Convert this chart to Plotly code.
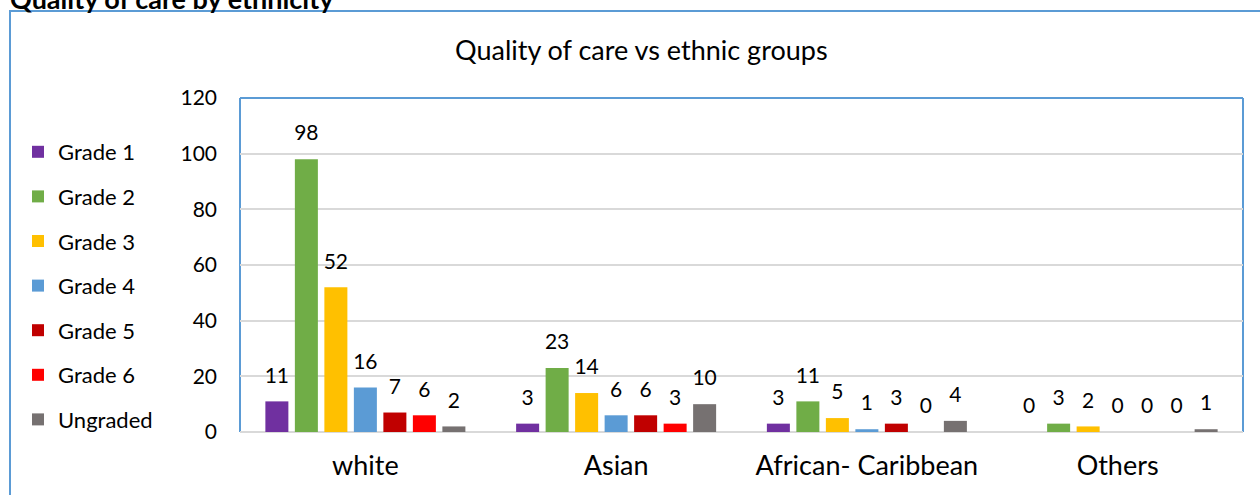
import plotly.graph_objects as go

categories = ["white", "Asian", "African- Caribbean", "Others"]
series_names = ["Grade 1", "Grade 2", "Grade 3", "Grade 4", "Grade 5", "Grade 6", "Ungraded"]
grade1 = [11, 3, 3, 0]
grade2 = [98, 23, 11, 3]
grade3 = [52, 14, 5, 2]
grade4 = [16, 6, 1, 0]
grade5 = [7, 6, 3, 0]
grade6 = [6, 3, 0, 0]
ungraded = [2, 10, 4, 1]
series_values = [grade1, grade2, grade3, grade4, grade5, grade6, ungraded]
colors = ["#7030a0", "#70ad47", "#ffc000", "#5b9bd5", "#c00000", "#ff0000", "#767171"]
y_ticks = [0, 20, 40, 60, 80, 100, 120]

FONT = "Lato, 'Open Sans', sans-serif"
W, H = 1260, 495
ML, MR, MT, MB = 240, 17, 98, 63
BARGAP = 0.1765

fig = go.Figure()
for name, vals, col in zip(series_names, series_values, colors):
    fig.add_trace(go.Bar(
        name=name, x=categories, y=vals,
        marker=dict(color=col, line=dict(width=0)),
        legendgroup=name, hoverinfo="x+y+name",
    ))
# data labels (grouped scatter text aligned with the bar slots)
for name, vals in zip(series_names, series_values):
    fig.add_trace(go.Scatter(
        x=categories, y=vals, mode="markers+text",
        text=[str(v) for v in vals], textposition="top center",
        textfont=dict(size=21, color="#000000", family=FONT),
        marker=dict(size=20, color="rgba(0,0,0,0)"),
        showlegend=False, cliponaxis=False, hoverinfo="skip",
    ))

pw = W - ML - MR
ph = H - MT - MB

def px_x(p):
    return (p - ML) / pw

def px_y(p):
    return (H - MB - p) / ph

blue = "#5b9bd5"
fig.update_layout(
    width=W, height=H,
    margin=dict(l=ML, r=MR, t=MT, b=MB, pad=0),
    paper_bgcolor="white", plot_bgcolor="white",
    barmode="group", bargap=BARGAP, bargroupgap=0.22,
    scattermode="group", scattergap=BARGAP,
    font=dict(family=FONT, color="#000000"),
    showlegend=True,
    legend=dict(
        x=px_x(18), y=px_y(131), xanchor="left", yanchor="top",
        font=dict(size=22, family=FONT), tracegroupgap=13,
        itemwidth=30, bgcolor="rgba(0,0,0,0)",
    ),
    xaxis=dict(
        showline=False, showgrid=False, ticks="",
        tickfont=dict(size=27, family=FONT), ticklabelstandoff=15,
    ),
    yaxis=dict(
        range=[0, 120], tickvals=y_ticks, ticktext=[str(t) for t in y_ticks],
        showgrid=True, gridcolor="#d9d9d9", gridwidth=2,
        zeroline=True, zerolinecolor="#d9d9d9", zerolinewidth=2,
        showline=False, ticks="", tickfont=dict(size=21, family=FONT),
        ticklabelstandoff=22,
    ),
    shapes=[
        dict(type="rect", xref="paper", yref="paper",
             x0=px_x(10), x1=px_x(1275), y0=px_y(510), y1=px_y(11),
             line=dict(color=blue, width=2), layer="below"),
        dict(type="line", xref="paper", yref="paper", x0=0, x1=0, y0=0, y1=1,
             line=dict(color=blue, width=2), layer="below"),
        dict(type="line", xref="paper", yref="paper", x0=1, x1=1, y0=0, y1=1,
             line=dict(color=blue, width=2), layer="below"),
        dict(type="line", xref="paper", yref="paper", x0=0, x1=1, y0=1, y1=1,
             line=dict(color=blue, width=2), layer="below"),
    ],
    annotations=[
        dict(text="Quality of care vs ethnic groups", xref="paper", yref="paper",
             x=px_x(641), y=px_y(50), xanchor="center", yanchor="middle",
             showarrow=False, font=dict(size=27, family=FONT, color="#000000")),
        dict(text="<b>Quality of care by ethnicity</b>", xref="paper", yref="paper",
             x=px_x(8), y=px_y(-2), xanchor="left", yanchor="middle",
             showarrow=False, font=dict(size=27, family=FONT, color="#000000")),
    ],
)

fig.write_html("out.html")
